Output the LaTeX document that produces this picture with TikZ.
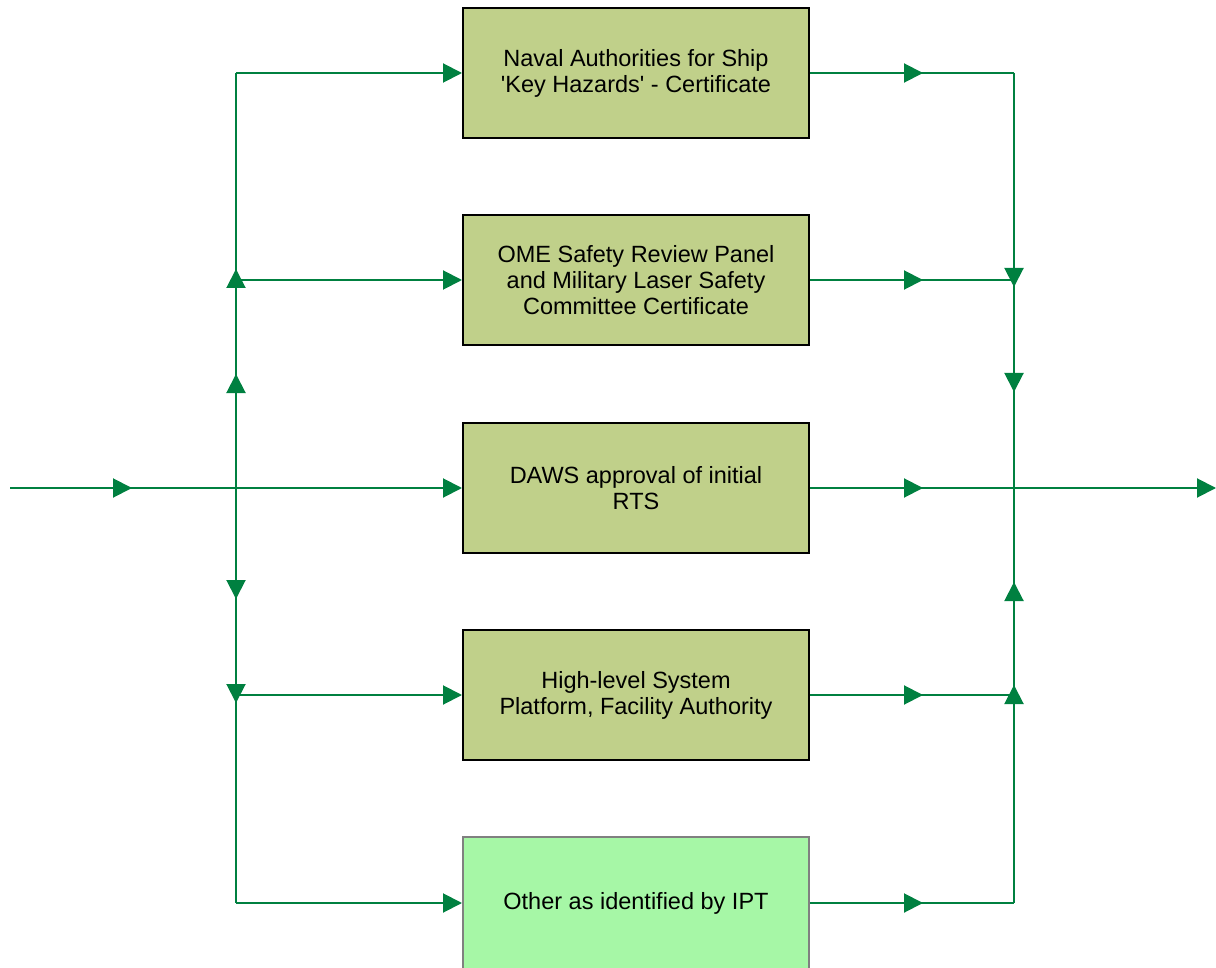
\documentclass[tikz,border=0pt]{standalone}
\usepackage{fontspec}
\setmainfont{Liberation Sans}
\usetikzlibrary{arrows.meta,decorations.markings}
\definecolor{lg}{RGB}{0,128,64}
\definecolor{boxfill}{RGB}{192,208,138}
\definecolor{boxfillb}{RGB}{166,247,166}
\definecolor{boxgray}{RGB}{128,128,128}
\tikzset{
 conn/.style={color=lg, draw, line width=2pt},
 arr/.style={conn, -{Triangle[length=19pt,width=19pt]}},
 midone/.style={postaction={decorate}, decoration={markings,
   mark=at position #1 with {\arrow{Triangle[length=19pt,width=19pt]}}}},
 midtwo/.style 2 args={postaction={decorate}, decoration={markings,
   mark=at position #1 with {\arrow{Triangle[length=19pt,width=19pt]}},
   mark=at position #2 with {\arrow{Triangle[length=19pt,width=19pt]}}}},
 box/.style={draw=black, line width=2pt, fill=boxfill, minimum width=346pt,
   minimum height=130pt, inner sep=0pt, align=center,
   font=\fontsize{23.5}{26}\selectfont},
}
\begin{document}
\begin{tikzpicture}[x=1pt,y=-1pt]
\useasboundingbox (0,0) rectangle (1216,968);
\node[box] (b1) at (636,73) {Naval Authorities for Ship\\\textquotesingle Key Hazards\textquotesingle\ - Certificate};
\node[box] (b2) at (636,280) {OME Safety Review Panel\\and Military Laser Safety\\Committee Certificate};
\node[box] (b3) at (636,488) {DAWS approval of initial\\RTS};
\node[box] (b4) at (636,695) {High-level System\\Platform, Facility Authority};
\node[box, draw=boxgray, fill=boxfillb, minimum height=132pt] (b5) at (636,903) {Other as identified by IPT};
\coordinate (in) at (10,488);
\coordinate (out) at (1216,488);
\foreach \i/\y in {1/73,2/280,3/488,4/695,5/903}{
  \coordinate (L\i) at (236,\y);
  \coordinate (R\i) at (1014,\y);
}
% input and output
\draw[conn, midone={122pt}] (in) -- (L3);
\draw[arr] (R3) -- (out);
% left distribution
\draw[conn, midtwo={114pt}{219pt}] (L3) -- (L1);
\draw[conn, midtwo={111pt}{215pt}] (L3) -- (L5);
\foreach \i in {1,...,5}{
  \draw[arr] (L\i) -- (b\i.west);
  \draw[conn, midone={113pt}] (b\i.east) -- (R\i);
}
% right collection
\draw[conn, midtwo={214pt}{319pt}] (R1) -- (R3);
\draw[conn, midtwo={218pt}{321pt}] (R5) -- (R3);
\end{tikzpicture}
\end{document}
